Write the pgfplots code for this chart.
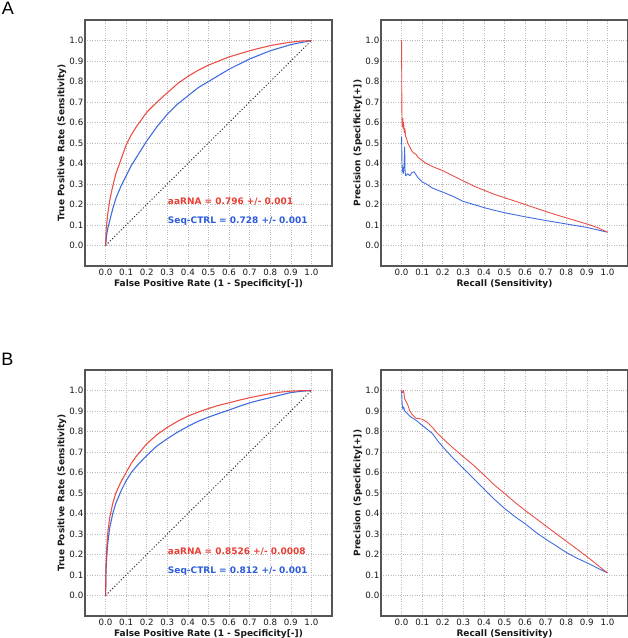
\documentclass[border=0pt]{standalone}
\usepackage{fontspec}
\setmainfont{DejaVu Sans}
\newfontfamily\panelfont{Liberation Sans}
\usepackage{pgfplots}
\pgfplotsset{compat=1.18}
\definecolor{myred}{RGB}{232,62,52}
\definecolor{myblue}{RGB}{44,92,218}
\definecolor{framec}{RGB}{85,85,85}
\pgfplotsset{
  panel/.style={
    scale only axis, width=247pt, height=246pt,
    xmin=-0.1, xmax=1.1, ymin=-0.1, ymax=1.1,
    xtick={0,0.1,0.2,0.3,0.4,0.5,0.6,0.7,0.8,0.9,1},
    ytick={0,0.1,0.2,0.3,0.4,0.5,0.6,0.7,0.8,0.9,1},
    xticklabels={0.0,0.1,0.2,0.3,0.4,0.5,0.6,0.7,0.8,0.9,1.0},
    yticklabels={0.0,0.1,0.2,0.3,0.4,0.5,0.6,0.7,0.8,0.9,1.0},
    tick label style={font=\fontsize{8.7}{10}\selectfont, text=black!90},
    xticklabel style={inner sep=1.5pt, yshift=-1pt},
    yticklabel style={inner sep=1.5pt},
    label style={font=\bfseries\fontsize{9}{11}\selectfont, text=black!90},
    xlabel style={at={(axis description cs:0.5,-0.073)}, anchor=center},
    ylabel style={at={(axis description cs:-0.093,0.5)}, anchor=center},
    axis line style={draw=framec, line width=1.4pt},
    major tick length=0pt,
    tick style={draw=none},
    grid=major,
    major grid style={dotted, draw=gray!55, line width=0.6pt},
    every axis plot/.append style={line width=1.1pt, line join=round},
  },
  roc/.style={panel,
    xlabel={False Positive Rate (1 - Specificity[-])},
    ylabel={True Positive Rate (Sensitivity)}},
  pr/.style={panel,
    xlabel={Recall (Sensitivity)},
    ylabel={Precision (Specificity[+])}},
}
\newcommand{\auc}[3]{\node[anchor=west, inner sep=0pt, text=#1, font=\bfseries\fontsize{9}{11}\selectfont] at (axis cs:0.302,#2) {#3};}
\begin{document}
\begin{tikzpicture}
\useasboundingbox (0pt,0pt) rectangle (628pt,638pt);
\node[font=\panelfont\fontsize{18}{20}\selectfont, inner sep=0pt] at (8pt,629.5pt) {A};
\node[font=\panelfont\fontsize{18}{20}\selectfont, inner sep=0pt] at (7.5pt,278.5pt) {B};

% ---------- A: ROC ----------
\begin{axis}[roc, at={(85pt,372pt)}, anchor=south west]
\addplot[black!80, dotted, line width=1pt] coordinates {(0,0) (1,1)};
\addplot[myblue, opacity=0.9] coordinates {
(0,0) (0.005,0.05) (0.01,0.08) (0.02,0.12) (0.035,0.18) (0.05,0.23) (0.075,0.29) (0.1,0.34) (0.125,0.39) (0.15,0.43) (0.2,0.51) (0.25,0.58) (0.3,0.64) (0.35,0.69) (0.4,0.73) (0.45,0.77) (0.5,0.80) (0.55,0.83) (0.6,0.86) (0.65,0.885) (0.7,0.91) (0.75,0.93) (0.8,0.95) (0.85,0.965) (0.9,0.98) (0.95,0.99) (1,1)};
\addplot[myred, opacity=0.9] coordinates {
(0,0) (0.003,0.08) (0.01,0.15) (0.02,0.22) (0.035,0.29) (0.05,0.35) (0.075,0.42) (0.1,0.49) (0.125,0.54) (0.15,0.58) (0.2,0.65) (0.25,0.70) (0.3,0.745) (0.35,0.79) (0.4,0.825) (0.45,0.855) (0.5,0.88) (0.55,0.90) (0.6,0.92) (0.65,0.935) (0.7,0.95) (0.75,0.963) (0.8,0.975) (0.85,0.984) (0.9,0.992) (0.95,0.997) (1,1)};
\auc{myred}{0.215}{aaRNA = 0.796 +/- 0.001}
\auc{myblue}{0.117}{Seq-CTRL = 0.728 +/- 0.001}
\end{axis}

% ---------- A: PR ----------
\begin{axis}[pr, at={(381pt,372pt)}, anchor=south west]
\addplot[myblue, opacity=0.9, line width=0.9pt] coordinates {
(0,0.53) (0.002,0.40) (0.004,0.36) (0.006,0.38) (0.008,0.35) (0.01,0.37) (0.013,0.40) (0.015,0.48) (0.017,0.36) (0.02,0.34) (0.03,0.35) (0.04,0.34) (0.05,0.355) (0.06,0.36) (0.07,0.345) (0.08,0.33) (0.1,0.31) (0.12,0.30) (0.15,0.28) (0.2,0.26) (0.25,0.24) (0.3,0.215) (0.35,0.20) (0.4,0.185) (0.45,0.172) (0.5,0.16) (0.6,0.14) (0.7,0.122) (0.8,0.105) (0.9,0.088) (1.0,0.065)};
\addplot[myred, opacity=0.9, line width=0.9pt] coordinates {
(0,1.0) (0.001,0.75) (0.002,0.62) (0.004,0.58) (0.006,0.62) (0.008,0.57) (0.01,0.60) (0.013,0.55) (0.016,0.57) (0.02,0.53) (0.025,0.52) (0.03,0.50) (0.04,0.48) (0.05,0.46) (0.06,0.45) (0.07,0.445) (0.08,0.43) (0.1,0.415) (0.12,0.40) (0.15,0.385) (0.2,0.365) (0.25,0.34) (0.3,0.315) (0.35,0.29) (0.4,0.27) (0.45,0.25) (0.5,0.233) (0.55,0.217) (0.6,0.20) (0.65,0.183) (0.7,0.166) (0.75,0.15) (0.8,0.135) (0.85,0.12) (0.9,0.105) (0.95,0.088) (1.0,0.065)};
\end{axis}

% ---------- B: ROC ----------
\begin{axis}[roc, at={(85pt,22pt)}, anchor=south west]
\addplot[black!80, dotted, line width=1pt] coordinates {(0,0) (1,1)};
\addplot[myblue, opacity=0.9] coordinates {
(0,0) (0.002,0.12) (0.005,0.18) (0.01,0.25) (0.02,0.33) (0.035,0.40) (0.05,0.45) (0.075,0.51) (0.1,0.56) (0.125,0.60) (0.15,0.63) (0.2,0.683) (0.25,0.73) (0.3,0.765) (0.35,0.797) (0.4,0.825) (0.45,0.85) (0.5,0.87) (0.55,0.888) (0.6,0.905) (0.65,0.923) (0.7,0.94) (0.75,0.953) (0.8,0.965) (0.85,0.978) (0.9,0.99) (0.95,0.996) (1,1)};
\addplot[myred, opacity=0.9] coordinates {
(0,0) (0.002,0.15) (0.005,0.22) (0.01,0.30) (0.02,0.38) (0.035,0.45) (0.05,0.50) (0.075,0.555) (0.1,0.60) (0.125,0.645) (0.15,0.68) (0.2,0.74) (0.25,0.785) (0.3,0.82) (0.35,0.85) (0.4,0.875) (0.45,0.895) (0.5,0.912) (0.55,0.928) (0.6,0.94) (0.65,0.953) (0.7,0.965) (0.75,0.975) (0.8,0.985) (0.85,0.992) (0.9,0.997) (0.95,0.999) (1,1)};
\auc{myred}{0.215}{aaRNA = 0.8526 +/- 0.0008}
\auc{myblue}{0.117}{Seq-CTRL = 0.812 +/- 0.001}
\end{axis}

% ---------- B: PR ----------
\begin{axis}[pr, at={(381pt,22pt)}, anchor=south west]
\addplot[myblue, opacity=0.9, line width=0.9pt] coordinates {
(0,1.0) (0.003,0.93) (0.006,0.91) (0.01,0.92) (0.015,0.90) (0.02,0.895) (0.03,0.885) (0.04,0.875) (0.05,0.868) (0.07,0.855) (0.1,0.83) (0.125,0.81) (0.15,0.79) (0.175,0.755) (0.2,0.725) (0.25,0.67) (0.3,0.62) (0.35,0.57) (0.4,0.52) (0.45,0.47) (0.5,0.425) (0.55,0.385) (0.6,0.35) (0.65,0.31) (0.7,0.275) (0.75,0.243) (0.8,0.21) (0.85,0.183) (0.9,0.16) (0.95,0.135) (1.0,0.11)};
\addplot[myred, opacity=0.9, line width=0.9pt] coordinates {
(0,1.0) (0.005,0.99) (0.01,1.0) (0.015,0.96) (0.02,0.95) (0.03,0.93) (0.04,0.90) (0.05,0.885) (0.07,0.865) (0.1,0.86) (0.125,0.845) (0.15,0.82) (0.175,0.79) (0.2,0.766) (0.25,0.72) (0.3,0.677) (0.35,0.635) (0.4,0.588) (0.45,0.54) (0.5,0.498) (0.55,0.455) (0.6,0.415) (0.65,0.378) (0.7,0.34) (0.75,0.302) (0.8,0.265) (0.85,0.228) (0.9,0.19) (0.95,0.15) (1.0,0.11)};
\end{axis}
\end{tikzpicture}
\end{document}
